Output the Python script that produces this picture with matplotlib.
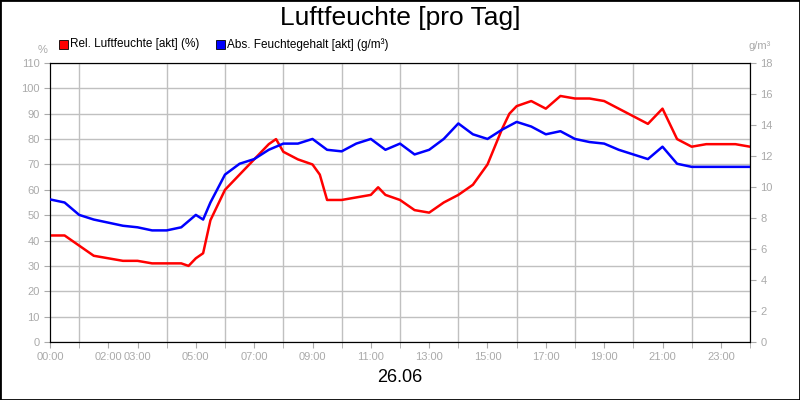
import matplotlib
matplotlib.use('Agg')
import matplotlib.pyplot as plt
from matplotlib.patches import Rectangle

plt.rcParams['font.family'] = ['Liberation Sans', 'DejaVu Sans']

# hours of day
t_rel = [0, 0.5, 1, 1.5, 2, 2.5, 3, 3.5, 4, 4.5, 4.75, 5, 5.25, 5.5, 6, 6.5, 7, 7.5, 7.75,
         8, 8.5, 9, 9.25, 9.5, 10, 10.5, 11, 11.25, 11.5, 12, 12.5, 13, 13.5, 14, 14.5,
         15, 15.5, 15.75, 16, 16.5, 17, 17.5, 18, 18.5, 19, 19.5, 20, 20.5, 21, 21.25,
         21.5, 22, 22.5, 23, 23.5, 24]
rel = [42, 42, 38, 34, 33, 32, 32, 31, 31, 31, 30, 33, 35, 48, 60, 66, 72, 78, 80,
       75, 72, 70, 66, 56, 56, 57, 58, 61, 58, 56, 52, 51, 55, 58, 62,
       70, 84, 90, 93, 95, 92, 97, 96, 96, 95, 92, 89, 86, 92, 86,
       80, 77, 78, 78, 78, 77]

t_abs = [0, 0.5, 1, 1.5, 2, 2.5, 3, 3.5, 4, 4.5, 5, 5.25, 5.5, 6, 6.5, 7, 7.5, 8, 8.5,
         9, 9.5, 10, 10.5, 11, 11.5, 12, 12.5, 13, 13.5, 14, 14.5, 15, 15.5, 16, 16.5,
         17, 17.5, 18, 18.5, 19, 19.5, 20, 20.5, 21, 21.5, 22, 22.5, 23, 24]
absf = [9.2, 9.0, 8.2, 7.9, 7.7, 7.5, 7.4, 7.2, 7.2, 7.4, 8.2, 7.9, 9.0, 10.8, 11.5, 11.8,
        12.4, 12.8, 12.8, 13.1, 12.4, 12.3, 12.8, 13.1, 12.4, 12.8, 12.1, 12.4, 13.1, 14.1,
        13.4, 13.1, 13.7, 14.2, 13.9, 13.4, 13.6, 13.1, 12.9, 12.8, 12.4, 12.1, 11.8, 12.6,
        11.5, 11.3, 11.3, 11.3, 11.3]

xtick_pos = [0, 2, 3, 5, 7, 9, 11, 13, 15, 17, 19, 21, 23]
xtick_lab = ['00:00', '02:00', '03:00', '05:00', '07:00', '09:00', '11:00', '13:00',
             '15:00', '17:00', '19:00', '21:00', '23:00']

grey = '#aaaaaa'
fig = plt.figure(figsize=(8, 4), dpi=100)
fig.patches.append(Rectangle((0, 0), 1, 1, transform=fig.transFigure, fill=False,
                             edgecolor='black', linewidth=2))
ax = fig.add_axes([0.0625, 0.145, 0.875, 0.6975])
ax2 = ax.twinx()

ax.set_xlim(0, 24)
ax.set_ylim(0, 110)
ax2.set_ylim(0, 18)
ax.set_xticks(xtick_pos)
ax.set_xticklabels(xtick_lab)
ax.set_xticks(range(25), minor=True)
ax.set_yticks(range(0, 111, 10))
ax2.set_yticks(range(0, 19, 2))
ax.grid(True, which='minor', axis='x', color='#c0c0c0', linewidth=1)
ax.grid(True, which='major', axis='y', color='#c0c0c0', linewidth=1)
ax.tick_params(which='both', colors=grey, labelsize=8, length=4, direction='out')
ax2.tick_params(colors=grey, labelsize=8, length=4, direction='out')
for a in (ax, ax2):
    for s in a.spines.values():
        s.set_color('black')

ax.plot(t_rel, rel, color='#ff0000', linewidth=1.8, zorder=3)
ax2.plot(t_abs, absf, color='#0000ff', linewidth=1.8, zorder=3)

fig.text(0.5, 0.955, 'Luftfeuchte [pro Tag]', ha='center', va='center', fontsize=19)
fig.text(0.5, 0.055, '26.06', ha='center', va='center', fontsize=13)
fig.text(0.053, 0.875, '%', ha='center', va='center', fontsize=8, color=grey)
fig.text(0.95, 0.885, 'g/m³', ha='center', va='center', fontsize=8, color=grey)

fig.patches.append(Rectangle((0.074, 0.878), 0.011, 0.022, transform=fig.transFigure,
                             facecolor='#ff0000', edgecolor='black', linewidth=0.6))
fig.text(0.088, 0.889, 'Rel. Luftfeuchte [akt] (%)', va='center', fontsize=8.5)
fig.patches.append(Rectangle((0.27, 0.878), 0.011, 0.022, transform=fig.transFigure,
                             facecolor='#0000ff', edgecolor='black', linewidth=0.6))
fig.text(0.284, 0.889, 'Abs. Feuchtegehalt [akt] (g/m³)', va='center', fontsize=8.5)

fig.savefig('out.png', dpi=100)
